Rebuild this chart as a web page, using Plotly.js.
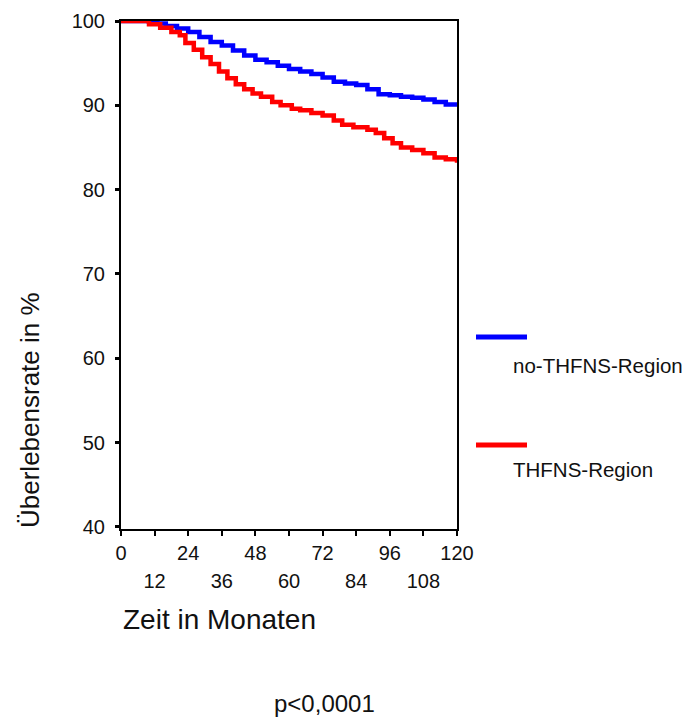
<!DOCTYPE html>
<html>
<head>
<meta charset="utf-8">
<script src="https://cdn.plot.ly/plotly-3.0.1.min.js"></script>
<style>html,body{margin:0;padding:0;background:#fff;}#chart{width:688px;height:719px;}</style>
</head>
<body>
<div id="chart"></div>
<script>
// Data (Kaplan-Meier style survival curves)
const monthsNoThfns = [0, 7, 10, 13, 16, 20, 24, 28, 32, 36, 40, 44, 48, 52, 56, 60, 64, 68, 72, 76, 80, 84, 88, 92, 96, 100, 104, 108, 112, 116, 120];
const survivalNoThfns = [100, 100, 99.9, 99.7, 99.4, 99.1, 98.7, 98.1, 97.5, 97.1, 96.5, 95.9, 95.4, 95.1, 94.7, 94.3, 94.0, 93.7, 93.3, 92.8, 92.6, 92.4, 91.9, 91.3, 91.2, 91.0, 90.9, 90.7, 90.4, 90.1, 89.9];

const monthsThfns = [0, 7, 10, 14, 18, 21, 23, 26, 29, 32, 35, 38, 41, 44, 47, 50, 54, 57, 61, 64, 68, 72, 76, 79, 83, 88, 91, 94, 97, 100, 104, 108, 112, 116, 120];
const survivalThfns = [100, 100, 99.6, 99.2, 98.7, 98.3, 97.4, 96.6, 95.7, 94.9, 94.0, 93.2, 92.5, 91.9, 91.4, 91.0, 90.4, 90.0, 89.6, 89.4, 89.1, 88.8, 88.2, 87.7, 87.4, 87.1, 86.7, 86.1, 85.5, 85.0, 84.7, 84.3, 83.8, 83.6, 83.2];

const seriesNames = ["no-THFNS-Region", "THFNS-Region"];
const xTicksRow1 = [0, 24, 48, 72, 96, 120];
const xTicksRow2 = [12, 36, 60, 84, 108];
const yTicks = [40, 50, 60, 70, 80, 90, 100];

const FONT = "Liberation Sans, Arial, sans-serif";
const BLUE = "#0000ff";
const RED = "#ff0000";

const traces = [
  {x: monthsNoThfns, y: survivalNoThfns, name: seriesNames[0], type: "scatter", mode: "lines",
   line: {color: BLUE, width: 4.5, shape: "hv"}, xaxis: "x", yaxis: "y", showlegend: false, cliponaxis: false},
  {x: monthsThfns, y: survivalThfns, name: seriesNames[1], type: "scatter", mode: "lines",
   line: {color: RED, width: 4.5, shape: "hv"}, xaxis: "x", yaxis: "y", showlegend: false, cliponaxis: false},
  // empty trace so the second-row tick axis is drawn
  {x: [], y: [], type: "scatter", mode: "lines", xaxis: "x2", yaxis: "y", showlegend: false, hoverinfo: "skip"}
];

const L = 121, R = 457, T = 21, B = 529;
const W = R - L, H = B - T;
const px = v => (v - L) / W;
const py = v => (B - v) / H;

const tickFont = {family: FONT, size: 20, color: "#111"};

const layout = {
  width: 688, height: 719,
  margin: {l: L, r: 688 - R, t: T, b: 719 - B, pad: 0},
  paper_bgcolor: "#ffffff", plot_bgcolor: "#ffffff",
  font: {family: FONT, color: "#000000", size: 19},
  showlegend: false,
  xaxis: {
    range: [0, 120], tickvals: xTicksRow1.concat(xTicksRow2),
    ticktext: xTicksRow1.map(String).concat(xTicksRow2.map(() => "")),
    ticks: "outside", ticklen: 5, tickwidth: 2, tickcolor: "#000",
    showline: true, linecolor: "#000", linewidth: 2, mirror: true,
    showgrid: false, zeroline: false, fixedrange: true,
    tickfont: tickFont
  },
  xaxis2: {
    range: [0, 120], overlaying: "x", anchor: "y", side: "bottom",
    tickvals: xTicksRow2, ticktext: xTicksRow2.map(String),
    ticks: "", showline: false, showgrid: false, zeroline: false,
    ticklabelstandoff: 38, fixedrange: true,
    tickfont: tickFont
  },
  yaxis: {
    range: [39.74, 100], tickvals: yTicks, ticktext: yTicks.map(String),
    ticks: "outside", ticklen: 4, tickwidth: 3, tickcolor: "#000",
    showline: true, linecolor: "#000", linewidth: 2, mirror: true,
    showgrid: false, zeroline: false, fixedrange: true,
    ticklabelstandoff: 6,
    tickfont: tickFont
  },
  shapes: [
    {type: "line", xref: "paper", yref: "paper", x0: px(476), x1: px(527), y0: py(337), y1: py(337), line: {color: BLUE, width: 5}},
    {type: "line", xref: "paper", yref: "paper", x0: px(476), x1: px(527), y0: py(445), y1: py(445), line: {color: RED, width: 5}}
  ],
  annotations: [
    {xref: "paper", yref: "paper", x: px(511), y: py(365), xanchor: "left", yanchor: "middle", text: seriesNames[0], showarrow: false, font: {family: FONT, size: 20.5, color: "#111"}},
    {xref: "paper", yref: "paper", x: px(511), y: py(469), xanchor: "left", yanchor: "middle", text: seriesNames[1], showarrow: false, font: {family: FONT, size: 20.5, color: "#111"}},
    {xref: "paper", yref: "paper", x: px(121), y: py(619), xanchor: "left", yanchor: "middle", text: "Zeit in Monaten", showarrow: false, font: {family: FONT, size: 28, color: "#111"}},
    {xref: "paper", yref: "paper", x: px(30), y: py(410), xanchor: "center", yanchor: "middle", textangle: -90, text: "Überlebensrate in %", showarrow: false, font: {family: FONT, size: 26, color: "#111"}},
    {xref: "paper", yref: "paper", x: px(324), y: py(703), xanchor: "center", yanchor: "middle", text: "p&lt;0,0001", showarrow: false, font: {family: FONT, size: 24, color: "#111"}}
  ]
};

Plotly.newPlot("chart", traces, layout, {displayModeBar: false, staticPlot: true});
</script>
</body>
</html>
